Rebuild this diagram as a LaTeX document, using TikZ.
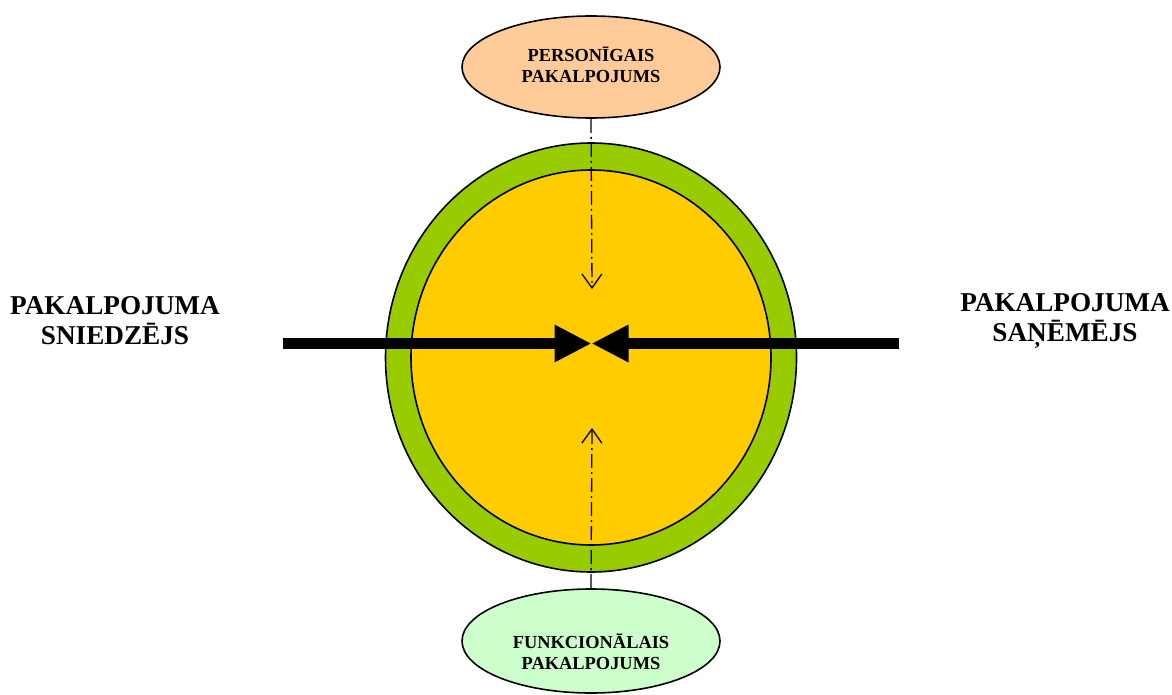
\documentclass[tikz,border=0pt]{standalone}
\usepackage{fontspec}
\setmainfont{Liberation Serif}
\usetikzlibrary{shapes.geometric,arrows.meta}
\definecolor{peach}{HTML}{FFCC99}
\definecolor{mint}{HTML}{CCFFCC}
\definecolor{ringgreen}{HTML}{99CC00}
\definecolor{coreyellow}{HTML}{FFCC00}
\begin{document}
\begin{tikzpicture}[x=1pt,y=-1pt,
  oval/.style={ellipse, draw=black, line width=1.6pt, inner sep=0pt},
  smalllabel/.style={font=\fontsize{18.4}{21}\selectfont\bfseries, align=center},
  biglabel/.style={font=\fontsize{27.2}{30}\selectfont\bfseries, align=center},
  bigarrow/.style={line width=11pt, -{Triangle[length=37pt,width=35pt]}},
  dashdot/.style={line width=1.3pt, dash pattern=on 14pt off 4pt on 2pt off 4pt, -{Straight Barb[length=14pt,width=20pt]}}
]
\useasboundingbox (0,0) rectangle (1172,695);
% big circles
\node[oval, fill=ringgreen, minimum width=411pt, minimum height=429pt] (outer) at (591,357.5) {};
\node[oval, fill=coreyellow, minimum width=360pt, minimum height=375pt] (inner) at (591,357.5) {};
% small ellipses
\node[oval, fill=peach, minimum width=258pt, minimum height=102pt] (pers) at (591,67) {};
\node[smalllabel] at (591,65) {PERSONĪGAIS\\PAKALPOJUMS};
\node[oval, fill=mint, minimum width=258pt, minimum height=104pt] (func) at (591,641) {};
\node[smalllabel] at (591,652) {FUNKCIONĀLAIS\\PAKALPOJUMS};
% side labels
\node[biglabel] (prov) at (115,321) {PAKALPOJUMA\\SNIEDZĒJS};
\node[biglabel] (recv) at (1065,321) {PAKALPOJUMA\\SAŅĒMĒJS};
% coordinates
\coordinate (centre) at (591.5,343.5);
\coordinate (lstart) at (283,343.5);
\coordinate (rstart) at (899,343.5);
\coordinate (toptip) at (592,289);
\coordinate (bottip) at (592,428);
% dash-dot arrows
\draw[dashdot] (pers.south) -- (toptip);
\draw[dashdot] (func.north) -- (bottip);
% thick arrows
\draw[bigarrow] (lstart) -- (centre);
\draw[bigarrow] (rstart) -- (centre);
\end{tikzpicture}
\end{document}
